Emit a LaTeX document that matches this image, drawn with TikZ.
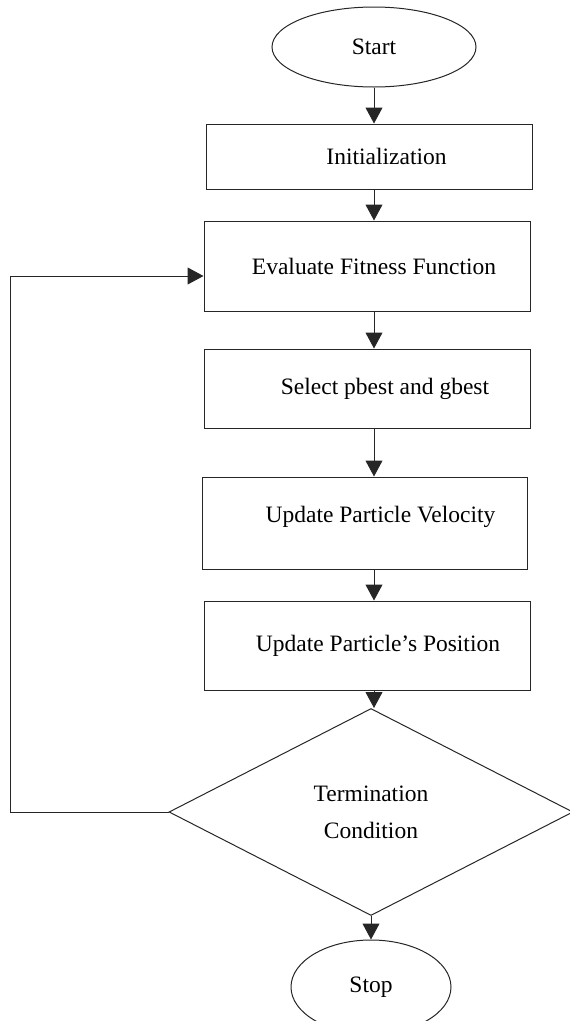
\documentclass[tikz,border=0pt]{standalone}
\usepackage{fontspec}
\setmainfont{Liberation Serif}
\usetikzlibrary{arrows.meta,positioning,shapes.geometric}

\begin{document}
\begin{tikzpicture}[x=1pt,y=-1pt]
	\begin{scope}

\tikzset{stepbox/.style={draw=black!85,line width=1pt,minimum width=326pt,inner sep=0pt},
	endbox/.style={draw=black!85,line width=1pt,ellipse,inner sep=0pt},
	flow/.style={draw=black!85,line width=1pt,-{Triangle[length=16pt,width=17pt]}},
	lbl/.style={font=\fontsize{23.5}{37}\selectfont}}

\useasboundingbox (0,0) rectangle (570,1021);

\node(start)[endbox,lbl,minimum width=204pt,minimum height=80pt] at (374,47){Start};

% the steps of the swarm loop
\node(init)[stepbox,minimum height=65pt,label={[lbl,xshift=17pt]center:Initialization}] at (369.5,156.5){};
\node(eval)[stepbox,minimum height=90pt,label={[lbl,xshift=7pt]center:Evaluate Fitness Function}] at (367,266){};
\node(sel)[stepbox,minimum height=79pt,label={[lbl,xshift=18pt]center:Select pbest and gbest}] at (367,388.5){};
\node(vel)[stepbox,minimum width=325pt,minimum height=92pt,label={[lbl,xshift=16pt,yshift=6pt]center:Update Particle Velocity}] at (364.5,523){};
\node(pos)[stepbox,minimum height=89pt,label={[lbl,xshift=11pt]center:Update Particle’s Position}] at (367,645.5){};

\node(cond)[draw=black!85,line width=1pt,diamond,aspect=2,minimum width=404pt,minimum height=207pt,inner sep=0pt,align=center,lbl] at (371,812){Termination\\Condition};

\node(stop)[endbox,lbl,minimum width=160pt,minimum height=94pt] at (371,987){Stop};

% the straight flow down
\draw[flow] (start.south) -- (start.south |- init.north);
\foreach \a/\b in {init/eval,eval/sel,sel/vel,vel/pos,pos/cond}
{
\draw[flow] (\a.south -| start) -- (\b.north -| start);
}
\draw[flow] (cond.south) -- (stop.north);

% back to the fitness step
\coordinate(back) at (10,276);
\draw[flow] (cond.west) -| (back) -- (back -| eval.west);

	\end{scope}
\end{tikzpicture}
\end{document}
